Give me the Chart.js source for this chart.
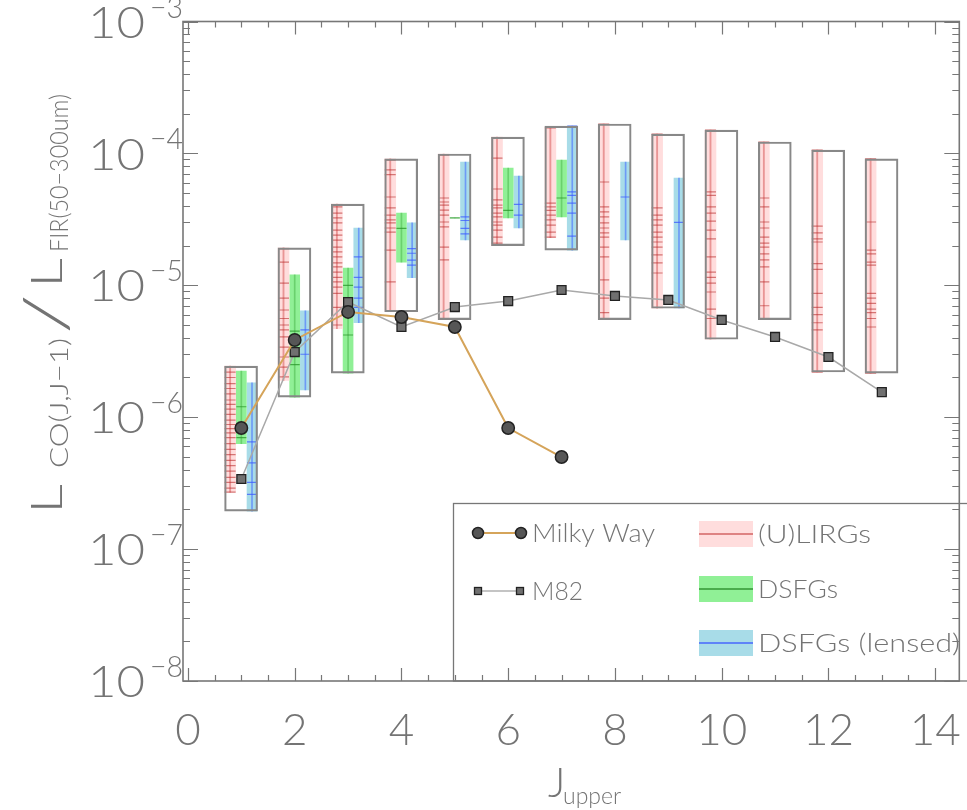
<!DOCTYPE html>
<html>
<head>
<meta charset="utf-8">
<script src="https://cdn.jsdelivr.net/npm/chart.js@4.4.0/dist/chart.umd.min.js"></script>
<style>
  html, body { margin: 0; padding: 0; background: #fff; overflow: hidden; }
</style>
</head>
<body>
<canvas id="c" width="967" height="810"></canvas>
<script>
// ---- data ----
const jUpper = [1, 2, 3, 4, 5, 6, 7, 8, 9, 10, 11, 12, 13];

// (U)LIRGs range and individual galaxies
const lirgLo = [2.7e-7, 1.9e-6, 4.7e-6, 6.3e-6, 5.5e-6, 2.0e-5, 2.3e-5, 5.5e-6, 6.7e-6, 3.9e-6, 5.5e-6, 2.2e-6, 2.16e-6];
const lirgHi = [2.44e-6, 1.92e-5, 4.13e-5, 9.1e-5, 9.9e-5, 1.33e-4, 1.58e-4, 1.67e-4, 1.40e-4, 1.50e-4, 1.22e-4, 1.06e-4, 9.1e-5];
const lirgVals = [
  [2.4e-6, 2.2e-6, 2.0e-6, 1.8e-6, 1.65e-6, 1.5e-6, 1.35e-6, 1.25e-6, 1.15e-6, 1.05e-6, 9.5e-7, 8.8e-7, 8.2e-7, 7.6e-7, 7.0e-7, 6.3e-7, 5.7e-7, 5.2e-7, 4.7e-7, 4.3e-7, 3.9e-7, 3.5e-7, 3.2e-7, 2.9e-7, 2.7e-7],
  [1.9e-5, 1.5e-5, 1.04e-5, 8.0e-6, 6.5e-6, 5.6e-6, 5.0e-6, 4.6e-6, 4.06e-6, 3.4e-6, 2.86e-6, 2.4e-6, 2.02e-6],
  [3.93e-5, 3.53e-5, 3.24e-5, 2.97e-5, 2.62e-5, 2.4e-5, 2.2e-5, 1.95e-5, 1.79e-5, 1.64e-5, 1.48e-5, 1.38e-5, 1.26e-5, 1.15e-5, 1.06e-5, 9.7e-6, 8.7e-6, 6.8e-6, 5.0e-6],
  [8.9e-5, 7.5e-5, 6.9e-5, 4.67e-5, 3.86e-5, 3.41e-5, 3.13e-5, 2.97e-5, 2.72e-5, 2.53e-5, 1.85e-5, 1.06e-5],
  [9.7e-5, 4.59e-5, 4.28e-5, 4.06e-5, 3.72e-5, 3.41e-5, 3.02e-5, 2.77e-5, 1.95e-5, 1.56e-5],
  [1.31e-4, 9.2e-5, 5.37e-5, 4.44e-5, 4.06e-5, 3.86e-5, 3.53e-5, 3.3e-5, 3.02e-5, 2.86e-5, 2.62e-5, 2.32e-5, 2.09e-5],
  [1.56e-4, 4.2e-5, 3.93e-5, 3.7e-5, 3.41e-5, 3.13e-5, 2.86e-5, 2.53e-5, 2.32e-5],
  [1.67e-4, 6.07e-5, 3.93e-5, 3.6e-5, 3.3e-5, 2.97e-5, 2.72e-5, 2.5e-5, 2.32e-5, 1.95e-5, 1.64e-5, 1.1e-5, 8.0e-6, 6.2e-6],
  [1.40e-4, 3.86e-5, 3.41e-5, 3.13e-5, 2.86e-5, 2.53e-5, 2.32e-5, 2.13e-5, 1.95e-5, 1.7e-5, 1.48e-5, 1.24e-5],
  [1.5e-4, 5.1e-5, 4.8e-5, 3.93e-5, 3.53e-5, 3.07e-5, 2.62e-5, 2.25e-5, 1.64e-5, 1.26e-5, 1.15e-5, 1.04e-5, 8.9e-6, 6.6e-6, 5.6e-6],
  [1.22e-4, 4.59e-5, 3.93e-5, 3.02e-5, 2.72e-5, 2.32e-5, 2.09e-5, 1.95e-5, 1.73e-5, 1.56e-5, 1.38e-5, 1.06e-5, 7.0e-6],
  [1.06e-4, 2.81e-5, 2.5e-5, 2.25e-5, 2.13e-5, 1.46e-5, 1.32e-5, 8.7e-6, 6.8e-6, 6.0e-6, 5.2e-6, 4.6e-6, 2.2e-6],
  [9.1e-5, 3.02e-5, 1.85e-5, 1.73e-5, 1.5e-5, 1.42e-5, 8.7e-6, 8.0e-6, 7.3e-6, 6.6e-6, 6.2e-6, 5.6e-6, 4.83e-6, 2.16e-6]
];

// DSFGs (unlensed)
const dsfgJ = [1, 2, 3, 4, 5, 6, 7];
const dsfgLo = [6.3e-7, 1.42e-6, 2.16e-6, 1.50e-5, 3.24e-5, 3.24e-5, 3.30e-5];
const dsfgHi = [2.24e-6, 1.20e-5, 1.35e-5, 3.53e-5, 3.24e-5, 7.75e-5, 8.91e-5];
const dsfgVals = [[1.2e-6, 7.0e-7], [4.5e-6, 2.5e-6], [1.0e-5, 4.2e-6], [2.7e-5], [3.24e-5], [3.7e-5], [4.59e-5]];

// DSFGs (lensed)
const lensJ = [1, 2, 3, 4, 5, 6, 7, 8, 9];
const lensLo = [1.94e-7, 1.61e-6, 5.2e-6, 1.14e-5, 2.21e-5, 2.72e-5, 1.85e-5, 2.21e-5, 6.73e-6];
const lensHi = [1.82e-6, 6.4e-6, 2.72e-5, 2.97e-5, 8.61e-5, 6.74e-5, 1.61e-4, 8.61e-5, 6.51e-5];
const lensVals = [
  [6.5e-7, 4.5e-7, 3.2e-7, 2.6e-7], [4.6e-6, 3.0e-6], [1.64e-5, 1.15e-5, 9.7e-6, 8.0e-6, 6.8e-6],
  [1.9e-5, 1.75e-5, 1.55e-5, 1.42e-5], [3.3e-5, 3.1e-5, 2.7e-5, 2.45e-5], [4.1e-5, 3.4e-5],
  [1.61e-4, 5.1e-5, 4.8e-5, 4.2e-5, 3.53e-5, 2.36e-5], [4.67e-5], [3.0e-5]
];

// Milky Way and M82 ladders
const mwJ = [1, 2, 3, 4, 5, 6, 7];
const mwVal = [8.28e-7, 3.85e-6, 6.28e-6, 5.75e-6, 4.83e-6, 8.28e-7, 4.99e-7];
const m82J = [1, 2, 3, 4, 5, 6, 7, 8, 9, 10, 11, 12, 13];
const m82Val = [3.4e-7, 3.12e-6, 7.47e-6, 4.83e-6, 6.84e-6, 7.6e-6, 9.21e-6, 8.3e-6, 7.74e-6, 5.46e-6, 4.06e-6, 2.86e-6, 1.55e-6];

// axis labels
const xTickLabels = [0, 2, 4, 6, 8, 10, 12, 14];
const yDecades = [-3, -4, -5, -6, -7, -8];

// ---- styling / layout ----
const OFF_RED = -0.21, OFF_GREEN = 0.0, OFF_BLUE = 0.2, OFF_BOX = -0.005;
const TXT = '#747474';
const AX = '#777';
const FONT = 'Lato, "DejaVu Sans", sans-serif';
const W = '300 ';

function bandData(js, lo, hi, off) {
  return js.map((j, i) => ({ x: j + off, y: [lo[i], hi[i]] }));
}
function tickData(js, vals, off) {
  const out = [];
  js.forEach((j, i) => vals[i].forEach(v => out.push({ x: j + off, y: v })));
  return out;
}

// outline box = union of all samples at that J
const boxLo = jUpper.map((j, i) => {
  let m = lirgLo[i];
  const d = dsfgJ.indexOf(j), l = lensJ.indexOf(j);
  if (d >= 0) m = Math.min(m, dsfgLo[d]);
  if (l >= 0) m = Math.min(m, lensLo[l]);
  return m;
});
const boxHi = jUpper.map((j, i) => {
  let m = lirgHi[i];
  const d = dsfgJ.indexOf(j), l = lensJ.indexOf(j);
  if (d >= 0) m = Math.max(m, dsfgHi[d]);
  if (l >= 0) m = Math.max(m, lensHi[l]);
  return m;
});

function band(data, color, width, order) {
  return { type: 'bar', data, backgroundColor: color, borderWidth: 0, barThickness: width, grouped: false, order };
}
function ticks(data, color, r, order) {
  return {
    type: 'line', data, showLine: false, pointStyle: 'line', pointRadius: r,
    pointBorderColor: color, pointBorderWidth: 1.2, borderColor: color, order
  };
}

const datasets = [
  band(bandData(jUpper, lirgLo, lirgHi, OFF_RED), '#ffdddd', 11, 30),
  band(bandData(dsfgJ, dsfgLo, dsfgHi, OFF_GREEN), 'rgb(144,240,150)', 10, 30),
  band(bandData(lensJ, lensLo, lensHi, OFF_BLUE), 'rgb(168,220,232)', 10, 30),
  band(bandData(jUpper, lirgLo, lirgHi, OFF_RED), 'rgba(215,90,90,0.55)', 1.2, 25),
  band(bandData(dsfgJ, dsfgLo, dsfgHi, OFF_GREEN), 'rgba(60,170,60,0.45)', 1, 25),
  band(bandData(lensJ, lensLo, lensHi, OFF_BLUE), 'rgba(70,110,255,0.6)', 1, 25),
  ticks(tickData(jUpper, lirgVals, OFF_RED), 'rgba(185,45,45,0.6)', 5.5, 20),
  ticks(tickData(dsfgJ, dsfgVals, OFF_GREEN), 'rgba(40,150,40,0.75)', 5, 20),
  ticks(tickData(lensJ, lensVals, OFF_BLUE), 'rgba(60,90,255,0.75)', 5, 20),
  {
    type: 'bar', data: bandData(jUpper, boxLo, boxHi, OFF_BOX), backgroundColor: 'rgba(0,0,0,0)',
    borderColor: '#888', borderWidth: 1.5, borderSkipped: false, barThickness: 33, grouped: false, order: 10
  },
  {
    type: 'line', label: 'M82', data: m82J.map((j, i) => ({ x: j, y: m82Val[i] })),
    borderColor: '#a9a9a9', borderWidth: 1.5, pointStyle: 'rect', pointRadius: 6.3,
    pointBackgroundColor: '#707070', pointBorderColor: '#222', pointBorderWidth: 1.3, order: 2
  },
  {
    type: 'line', label: 'Milky Way', data: mwJ.map((j, i) => ({ x: j, y: mwVal[i] })),
    borderColor: '#d5a45a', borderWidth: 2, pointStyle: 'circle', pointRadius: 6.2,
    pointBackgroundColor: '#565656', pointBorderColor: '#222', pointBorderWidth: 1.5, order: 1
  }
];

function supLabel(ctx, base, sup, xRight, y) {
  ctx.font = W + '44px ' + FONT;
  ctx.textAlign = 'left';
  ctx.textBaseline = 'middle';
  fitText(ctx, base, 88, y + 2, 57);
  ctx.font = W + '30px ' + FONT;
  ctx.textBaseline = 'alphabetic';
  fitText(ctx, sup, xRight + 3, y - 4, 33);
}

function fitText(ctx, text, x, y, width) {
  const w = ctx.measureText(text).width;
  ctx.save();
  ctx.translate(x, y);
  ctx.scale(width / w, 1);
  ctx.fillText(text, 0, 0);
  ctx.restore();
}

const frame = {
  id: 'frame',
  afterDraw(chart) {
    const { ctx, chartArea: a, scales: { x, y } } = chart;
    ctx.save();

    // legend
    ctx.strokeStyle = AX;
    ctx.lineWidth = 1.3;
    ctx.strokeRect(453.5, 503.5, 600, a.bottom - 503.5);
    ctx.lineWidth = 2;
    ctx.strokeStyle = '#d5a45a';
    ctx.beginPath(); ctx.moveTo(478, 533); ctx.lineTo(521, 533); ctx.stroke();
    ctx.strokeStyle = '#b0b0b0';
    ctx.lineWidth = 1.5;
    ctx.beginPath(); ctx.moveTo(478, 591); ctx.lineTo(520, 591); ctx.stroke();
    [478, 521].forEach(px => {
      ctx.beginPath(); ctx.arc(px, 533, 5.5, 0, Math.PI * 2);
      ctx.fillStyle = '#565656'; ctx.fill();
      ctx.lineWidth = 1.5; ctx.strokeStyle = '#222'; ctx.stroke();
    });
    [478, 520].forEach(px => {
      ctx.fillStyle = '#707070'; ctx.fillRect(px - 3.5, 587.5, 7, 7);
      ctx.lineWidth = 1.3; ctx.strokeStyle = '#222'; ctx.strokeRect(px - 3.5, 587.5, 7, 7);
    });
    const sw = [[521, '#ffdddd', 'rgba(200,70,70,0.8)'], [576, 'rgb(144,240,150)', 'rgba(40,140,40,0.9)'], [630, 'rgb(168,220,232)', 'rgba(60,90,255,0.9)']];
    sw.forEach(([top, fill, line]) => {
      ctx.fillStyle = fill; ctx.fillRect(699, top, 54, 26);
      ctx.strokeStyle = line; ctx.lineWidth = 1.3;
      ctx.beginPath(); ctx.moveTo(699, top + 13); ctx.lineTo(753, top + 13); ctx.stroke();
    });
    ctx.fillStyle = TXT;
    ctx.font = W + '26px ' + FONT;
    ctx.textAlign = 'left';
    ctx.textBaseline = 'middle';
    fitText(ctx, 'Milky Way', 532, 534, 123);
    fitText(ctx, 'M82', 532, 592, 51);
    fitText(ctx, '(U)LIRGs', 758, 535, 113);
    fitText(ctx, 'DSFGs', 758, 590, 80);
    fitText(ctx, 'DSFGs (lensed)', 758, 644, 202);

    // frame
    ctx.strokeStyle = AX;
    ctx.lineWidth = 1.6;
    ctx.strokeRect(a.left, a.top, a.right - a.left, a.bottom - a.top);

    // x ticks (every 0.5, long at labels)
    ctx.lineWidth = 1.2;
    ctx.beginPath();
    for (let v = 0; v <= 14.01; v += 0.5) {
      const px = Math.round(x.getPixelForValue(v)) + 0.5;
      const len = (v % 2 === 0) ? 13 : 6;
      ctx.moveTo(px, a.bottom); ctx.lineTo(px, a.bottom - len);
      ctx.moveTo(px, a.top); ctx.lineTo(px, a.top + len);
    }
    // y ticks (decades + minors)
    yDecades.forEach(d => {
      for (let k = 1; k <= 9; k++) {
        if (d === -3 && k > 1) break;
        const py = Math.round(y.getPixelForValue(k * Math.pow(10, d))) + 0.5;
        const len = k === 1 ? 15 : 7;
        ctx.moveTo(a.left, py); ctx.lineTo(a.left + len, py);
        ctx.moveTo(a.right, py); ctx.lineTo(a.right - len, py);
      }
    });
    ctx.stroke();

    // tick labels
    ctx.fillStyle = TXT;
    ctx.font = W + '44px ' + FONT;
    ctx.textAlign = 'center';
    ctx.textBaseline = 'alphabetic';
    xTickLabels.forEach(v => ctx.fillText(String(v), x.getPixelForValue(v), 745));
    yDecades.forEach(d => supLabel(ctx, '10', '\u2212' + Math.abs(d), 147, y.getPixelForValue(Math.pow(10, d))));

    // x title
    ctx.textAlign = 'left';
    ctx.font = W + '42px ' + FONT;
    ctx.fillText('J', 548, 797);
    ctx.font = W + '23px ' + FONT;
    ctx.fillText('upper', 563, 804);

    // y title (rotated)
    ctx.save();
    ctx.translate(62, 514);
    ctx.rotate(-Math.PI / 2);
    ctx.textAlign = 'left';
    ctx.font = W + '44px ' + FONT;
    fitText(ctx, 'L', 0, 0, 30);
    ctx.font = W + '26px ' + FONT;
    fitText(ctx, 'CO(J,J\u22121)', 46, 6, 130);
    ctx.font = W + '62px ' + FONT;
    fitText(ctx, '/', 180, 5, 40);
    ctx.font = W + '44px ' + FONT;
    fitText(ctx, 'L', 226, 0, 30);
    ctx.font = W + '26px ' + FONT;
    fitText(ctx, 'FIR(50\u2212300um)', 262, 6, 158);
    ctx.restore();

    ctx.restore();
  }
};

new Chart(document.getElementById('c'), {
  type: 'bar',
  data: { datasets },
  options: {
    responsive: false,
    animation: false,
    devicePixelRatio: 1,
    layout: { padding: { top: 21.5, left: 0, right: 0, bottom: 0 } },
    plugins: { legend: { display: false }, tooltip: { enabled: false } },
    scales: {
      x: {
        type: 'linear', min: -0.093, max: 14.452, offset: false,
        grid: { display: false }, border: { display: false }, ticks: { display: false },
        afterFit: s => { s.height = 129; }
      },
      y: {
        type: 'logarithmic', min: 1e-8, max: 1e-3,
        grid: { display: false }, border: { display: false }, ticks: { display: false },
        afterFit: s => { s.width = 183; }
      }
    }
  },
  plugins: [frame]
});
</script>
</body>
</html>
